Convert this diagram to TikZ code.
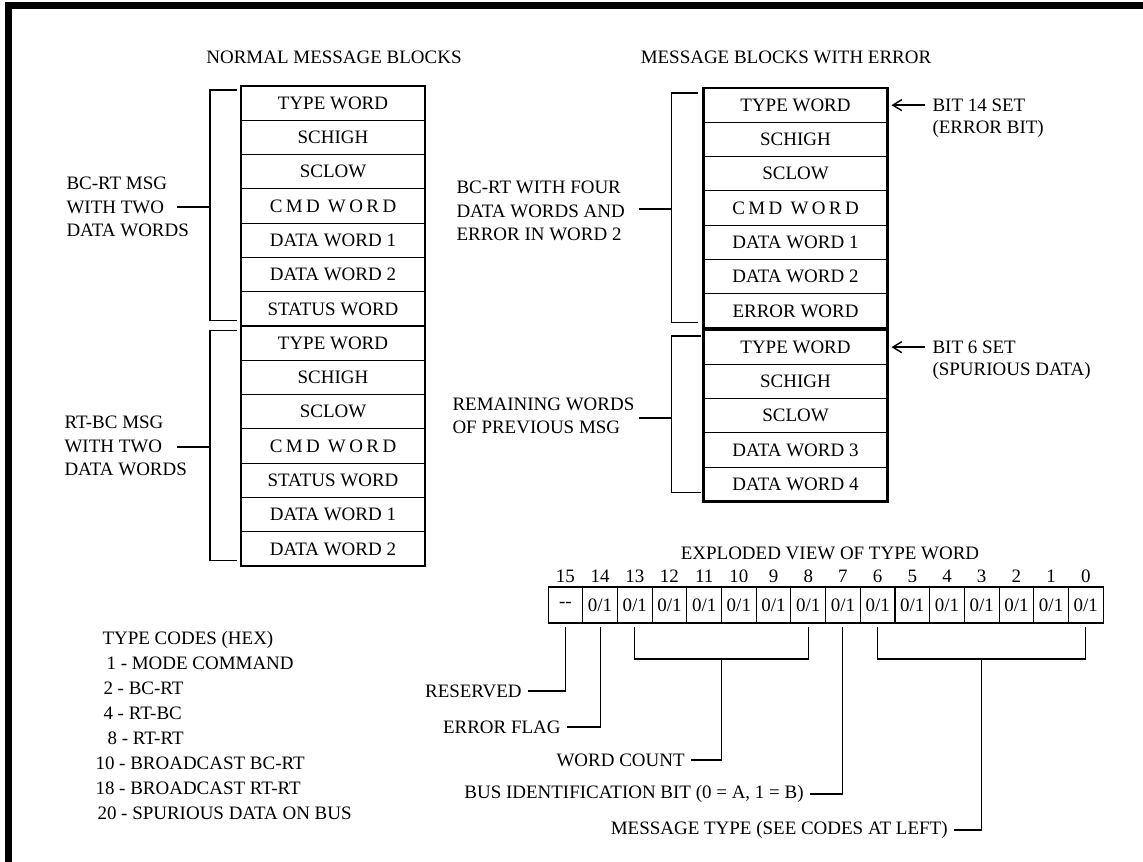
\documentclass[tikz,border=0pt]{standalone}
\usepackage{fontspec}
\setmainfont{Liberation Serif}
\usetikzlibrary{arrows.meta, calc, positioning}

\begin{document}
\begin{tikzpicture}[x=0.02cm, y=-0.02cm, line width=0.6pt,
  font=\fontsize{10.8}{13.3}\selectfont,
  fila/.style={draw, minimum width=3.68cm, minimum height=0.686cm, inner sep=0pt, outer sep=0pt},
  bloque/.style={draw, line width=1.5pt},
  bit/.style={draw, minimum width=0.694cm, minimum height=0.72cm, inner sep=0pt, outer sep=0pt},
  num/.style={inner sep=2pt},
  rotulo/.style={align=left, anchor=west, inner sep=0pt},
  >={Straight Barb[length=1.8mm, width=2.2mm]}]
  \useasboundingbox (0,0) rectangle (1143,862);
  \clip (0,0) rectangle (1143,862);
  % marco
  \draw[line width=0.14cm] (8.5,5.5) rectangle (1200,900);
  % titulos
  \node (normal) at (334,57) {NORMAL MESSAGE BLOCKS};
  \node (conerror) at (786,57) {MESSAGE BLOCKS WITH ERROR};
  % bloques normales
  \node[fila] (n1) at (333,103.15) {TYPE WORD};
  \node[fila, below=0pt of n1] (n2) {SCHIGH};
  \node[fila, below=0pt of n2] (n3) {SCLOW};
  \node[fila, below=0pt of n3] (n4) {\addfontfeature{LetterSpace=18}CMD WORD};
  \node[fila, below=0pt of n4] (n5) {DATA WORD 1};
  \node[fila, below=0pt of n5] (n6) {DATA WORD 2};
  \node[fila, below=0pt of n6] (n7) {STATUS WORD};
  \node[fila, below=0pt of n7] (m1) {TYPE WORD};
  \node[fila, below=0pt of m1] (m2) {SCHIGH};
  \node[fila, below=0pt of m2] (m3) {SCLOW};
  \node[fila, below=0pt of m3] (m4) {\addfontfeature{LetterSpace=18}CMD WORD};
  \node[fila, below=0pt of m4] (m5) {STATUS WORD};
  \node[fila, below=0pt of m5] (m6) {DATA WORD 1};
  \node[fila, below=0pt of m6] (m7) {DATA WORD 2};
  \draw[bloque] (n1.north west) rectangle (n7.south east);
  \draw[bloque] (m1.north west) rectangle (m7.south east);
  % bloques con error
  \node[fila] (e1) at (795.5,105.15) {TYPE WORD};
  \node[fila, below=0pt of e1] (e2) {SCHIGH};
  \node[fila, below=0pt of e2] (e3) {SCLOW};
  \node[fila, below=0pt of e3] (e4) {\addfontfeature{LetterSpace=18}CMD WORD};
  \node[fila, below=0pt of e4] (e5) {DATA WORD 1};
  \node[fila, below=0pt of e5] (e6) {DATA WORD 2};
  \node[fila, below=0pt of e6] (e7) {ERROR WORD};
  \node[fila] (r1) at (795.5,347.15) {TYPE WORD};
  \node[fila, below=0pt of r1] (r2) {SCHIGH};
  \node[fila, below=0pt of r2] (r3) {SCLOW};
  \node[fila, below=0pt of r3] (r4) {DATA WORD 3};
  \node[fila, below=0pt of r4] (r5) {DATA WORD 4};
  \draw[bloque] (e1.north west) rectangle (e7.south east);
  \draw[bloque] (r1.north west) rectangle (r5.south east);
  % corchetes y rotulos
  \draw ($(n1.north west)+(-4,4)$) -- ++(-27,0) |- ($(n7.south west)+(-4,-6)$);
  \draw ($(m1.north west)+(-4,4)$) -- ++(-27,0) |- ($(m7.south west)+(-4,-6)$);
  \draw ($(e1.north west)+(-6,5)$) -- ++(-26,0) |- ($(e7.south west)+(-6,-6)$);
  \draw ($(r1.north west)+(-3,6)$) -- ++(-29,0) |- ($(r5.south west)+(-3,-9)$);
  \node[rotulo] (bcrt) at (66,207) {BC-RT MSG\\WITH TWO\\DATA WORDS};
  \node[rotulo] (rtbc) at (64,446) {RT-BC MSG\\WITH TWO\\DATA WORDS};
  \node[rotulo] (bcrtcuatro) at (456,211) {BC-RT WITH FOUR\\DATA WORDS AND\\ERROR IN WORD 2};
  \node[rotulo] (restantes) at (452,416) {REMAINING WORDS\\OF PREVIOUS MSG};
  \coordinate (g1) at (177,207);
  \coordinate (g2) at (177,447);
  \coordinate (g3) at (639,209);
  \coordinate (g4) at (639,418);
  \draw (g1) -- (g1 -| 210,0);
  \draw (g2) -- (g2 -| 210,0);
  \draw (g3) -- (g3 -| 671,0);
  \draw (g4) -- (g4 -| 671,0);
  % flechas de bits activos
  \node[rotulo] (bitcatorce) at (932,105.15) {BIT 14 SET};
  \node[rotulo, anchor=north west] (errbit) at ([yshift=-0.16cm]bitcatorce.south west) {(ERROR BIT)};
  \node[rotulo] (bitseis) at (932,347.15) {BIT 6 SET};
  \node[rotulo, anchor=north west] (espurio) at ([yshift=-0.16cm]bitseis.south west) {(SPURIOUS DATA)};
  \draw[->, line width=0.8pt, shorten <=0.14cm, shorten >=0.08cm] (bitcatorce.west) -- (e1.east);
  \draw[->, line width=0.8pt, shorten <=0.14cm, shorten >=0.08cm] (bitseis.west) -- (r1.east);
  % vista de la palabra de tipo
  \node (explosion) at (830,553) {EXPLODED VIEW OF TYPE WORD};
  \node[bit, label={[num]above:15}] (bit15) at (565.4,605) {-{}-};
  \node[bit, right=0pt of bit15, label={[num]above:14}] (bit14) {0/1};
  \node[bit, right=0pt of bit14, label={[num]above:13}] (bit13) {0/1};
  \node[bit, right=0pt of bit13, label={[num]above:12}] (bit12) {0/1};
  \node[bit, right=0pt of bit12, label={[num]above:11}] (bit11) {0/1};
  \node[bit, right=0pt of bit11, label={[num]above:10}] (bit10) {0/1};
  \node[bit, right=0pt of bit10, label={[num]above:9}] (bit9) {0/1};
  \node[bit, right=0pt of bit9, label={[num]above:8}] (bit8) {0/1};
  \node[bit, right=0pt of bit8, label={[num]above:7}] (bit7) {0/1};
  \node[bit, right=0pt of bit7, label={[num]above:6}] (bit6) {0/1};
  \node[bit, right=0pt of bit6, label={[num]above:5}] (bit5) {0/1};
  \node[bit, right=0pt of bit5, label={[num]above:4}] (bit4) {0/1};
  \node[bit, right=0pt of bit4, label={[num]above:3}] (bit3) {0/1};
  \node[bit, right=0pt of bit3, label={[num]above:2}] (bit2) {0/1};
  \node[bit, right=0pt of bit2, label={[num]above:1}] (bit1) {0/1};
  \node[bit, right=0pt of bit1, label={[num]above:0}] (bit0) {0/1};
  % campos
  \node[anchor=east] (reservado) at (528,691) {RESERVED};
  \node[anchor=east] (errorflag) at (567,727) {ERROR FLAG};
  \node[anchor=east] (cuenta) at (691,760) {WORD COUNT};
  \node[anchor=east] (bus) at (810,794) {BUS IDENTIFICATION BIT (0 = A, 1 = B)};
  \node[anchor=east] (tipo) at (954,830) {MESSAGE TYPE (SEE CODES AT LEFT)};
  \draw ($(bit15.south)+(0,4)$) |- (reservado.east);
  \draw ($(bit14.south)+(0,4)$) |- (errorflag.east);
  \draw ($(bit13.south)+(0,4)$) -- ++(0,32) -| ($(bit8.south)+(0,4)$);
  \coordinate (wc) at ($(bit13.south)!0.5!(bit8.south)+(0,36)$);
  \draw (wc) |- (cuenta.east);
  \draw ($(bit7.south)+(0,4)$) |- (bus.east);
  \draw ($(bit6.south)+(0,4)$) -- ++(0,32) -| ($(bit0.south)+(0,4)$);
  \coordinate (mt) at ($(bit6.south)!0.5!(bit0.south)+(0,36)$);
  \draw (mt) |- (tipo.east);
  % codigos de tipo
  \node[rotulo, font=\fontsize{10.8}{14.2}\selectfont] (codigos) at (95,725.5)
    {\hspace*{0.14cm}TYPE CODES (HEX)\\
     \hspace*{0.22cm}1 - MODE COMMAND\\
     \hspace*{0.16cm}2 - BC-RT\\
     \hspace*{0.16cm}4 - RT-BC\\
     \hspace*{0.24cm}8 - RT-RT\\
     10 - BROADCAST BC-RT\\
     18 - BROADCAST RT-RT\\
     \hspace*{0.04cm}20 - SPURIOUS DATA ON BUS};
\end{tikzpicture}
\end{document}
